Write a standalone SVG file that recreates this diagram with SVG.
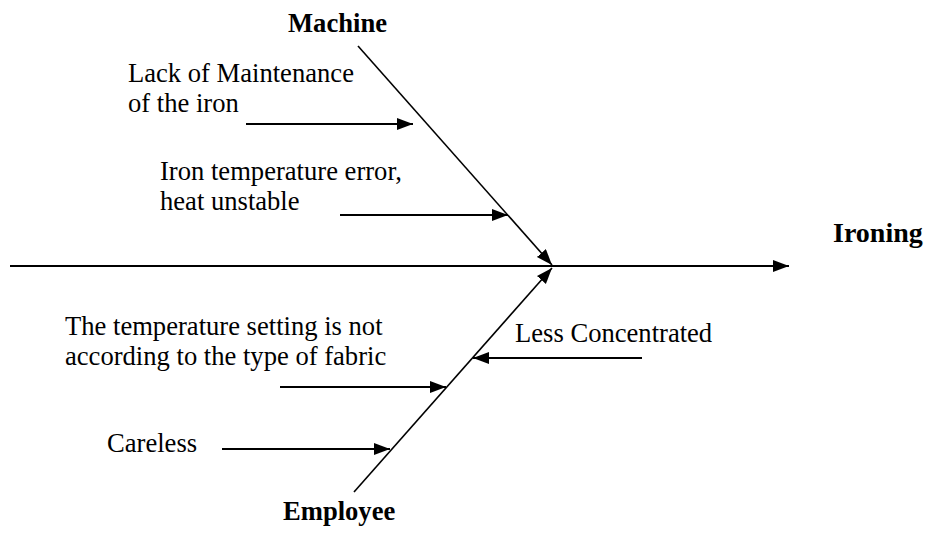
<svg xmlns="http://www.w3.org/2000/svg" width="932" height="533" viewBox="0 0 932 533">
  <style>
    text { font-family: 'Liberation Serif', 'Times New Roman', Tinos, 'DejaVu Serif', serif; fill: #000; }
    .lbl { font-size: 26.6px; }
    .head { font-size: 26.6px; font-weight: bold; }
    .ln { stroke: #000; stroke-width: 2; fill: none; }
    .bone { stroke: #000; stroke-width: 1.6; fill: none; }
  </style>
  <defs>
    <marker id="arrow" markerUnits="userSpaceOnUse" markerWidth="17" markerHeight="13" refX="16" refY="6" orient="auto">
      <path d="M0,0 L16,6 L0,12 z" fill="#000"/>
    </marker>
  </defs>
  <rect width="932" height="533" fill="#fff"/>

  <!-- spine, main bones and cause arrows -->
  <g id="connectors">
    <line class="ln" x1="10" y1="266" x2="789" y2="266" marker-end="url(#arrow)"/>
    <line class="bone" x1="358" y1="46" x2="552" y2="265" marker-end="url(#arrow)"/>
    <line class="bone" x1="354" y1="492" x2="552" y2="268" marker-end="url(#arrow)"/>
    <line class="ln" x1="246" y1="124" x2="413" y2="124" marker-end="url(#arrow)"/>
    <line class="ln" x1="340" y1="215" x2="508" y2="215" marker-end="url(#arrow)"/>
    <line class="ln" x1="280" y1="387" x2="446" y2="387" marker-end="url(#arrow)"/>
    <line class="ln" x1="222" y1="449" x2="390" y2="449" marker-end="url(#arrow)"/>
    <line class="ln" x1="642" y1="358" x2="473" y2="358" marker-end="url(#arrow)"/>
  </g>

  <!-- category and effect labels -->
  <g id="machine"><text class="head" x="288" y="32">Machine</text></g>
  <g id="employee"><text class="head" x="283" y="520">Employee</text></g>
  <g id="ironing"><text class="head" x="833" y="242" style="font-size:28px">Ironing</text></g>

  <!-- causes -->
  <g id="lack-maintenance">
    <text class="lbl" x="128" y="82">Lack of Maintenance</text>
    <text class="lbl" x="128" y="112">of the iron</text>
  </g>
  <g id="temperature-error">
    <text class="lbl" x="160" y="180">Iron temperature error,</text>
    <text class="lbl" x="160" y="210">heat unstable</text>
  </g>
  <g id="temperature-setting">
    <text class="lbl" x="65" y="335">The temperature setting is not</text>
    <text class="lbl" x="65" y="365">according to the type of fabric</text>
  </g>
  <g id="careless"><text class="lbl" x="107" y="452">Careless</text></g>
  <g id="less-concentrated"><text class="lbl" x="515" y="342">Less Concentrated</text></g>
</svg>
